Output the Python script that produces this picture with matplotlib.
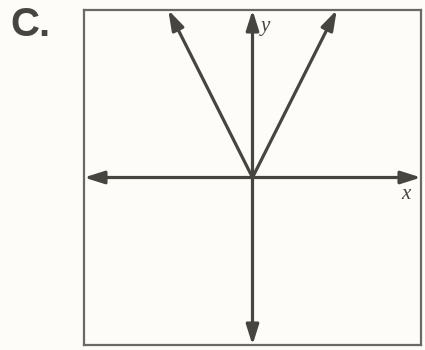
import matplotlib
matplotlib.use("Agg")
import matplotlib.pyplot as plt

# Data
x_limits = [-5, 5]
y_limits = [-5, 5]
v_x = [-2.5, 0, 2.5]      # graph of y = 2|x|
v_y = [5, 0, 5]
panel_label = "C."
x_label = "x"
y_label = "y"

ink = "#46453f"
bg = "#fdfcf8"

fig = plt.figure(figsize=(4.25, 3.5), dpi=100, facecolor=bg)
ax = fig.add_axes([84/425, 5/350, 337/425, 335/350])
ax.set_facecolor(bg)
ax.set_xlim(*x_limits)
ax.set_ylim(*y_limits)
ax.set_xticks([])
ax.set_yticks([])
for s in ax.spines.values():
    s.set_color("#6a6a64")
    s.set_linewidth(1.6)

arrow_kw = dict(arrowstyle="-|>,head_length=1.2,head_width=0.38", color=ink, lw=2.3,
                shrinkA=0, shrinkB=0)

# axes arrows (both directions)
ax.annotate("", xy=(x_limits[1], 0), xytext=(0, 0), arrowprops=arrow_kw)
ax.annotate("", xy=(x_limits[0], 0), xytext=(0, 0), arrowprops=arrow_kw)
ax.annotate("", xy=(0, y_limits[1]), xytext=(0, 0), arrowprops=arrow_kw)
ax.annotate("", xy=(0, y_limits[0]), xytext=(0, 0), arrowprops=arrow_kw)

# V graph arrows
ax.annotate("", xy=(v_x[0], v_y[0]), xytext=(v_x[1], v_y[1]), arrowprops=arrow_kw)
ax.annotate("", xy=(v_x[2], v_y[2]), xytext=(v_x[1], v_y[1]), arrowprops=arrow_kw)

ax.text(0.25, 4.5, y_label, fontsize=15, style="italic", family="Liberation Serif",
        color=ink, ha="left", va="center")
ax.text(4.55, -0.5, x_label, fontsize=15, style="italic", family="Liberation Serif",
        color=ink, ha="center", va="center")

fig.text(10/425, 1 - 25/350, panel_label, fontsize=29, fontweight="bold",
         family="Liberation Sans", color=ink, ha="left", va="center")

fig.savefig("out.png", dpi=100, facecolor=bg)
